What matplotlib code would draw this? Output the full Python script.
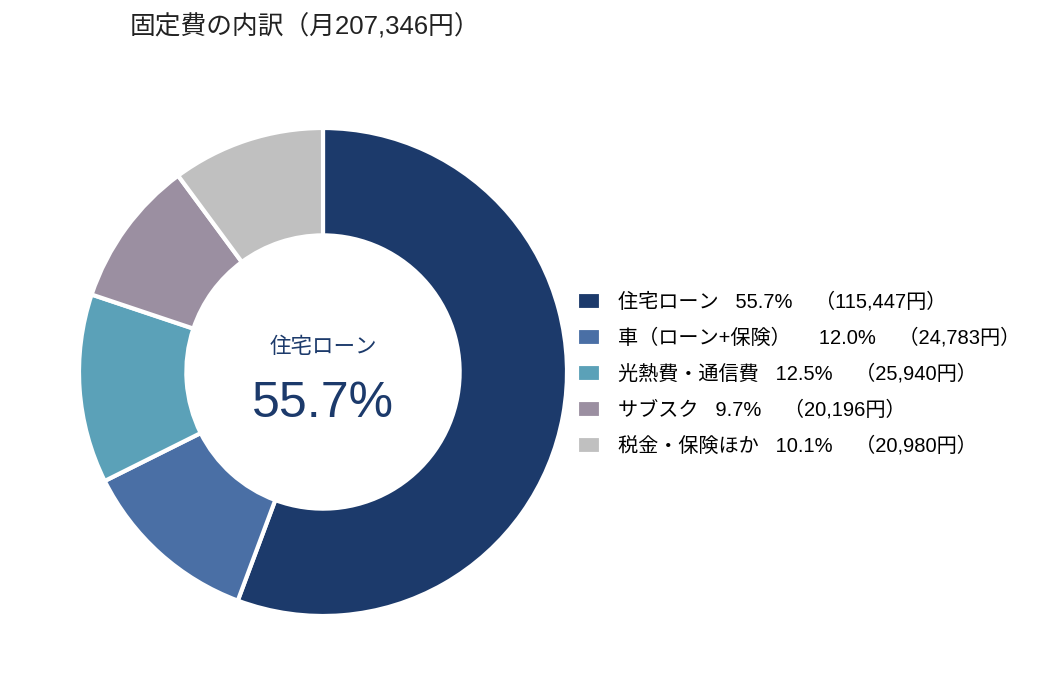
import matplotlib
matplotlib.use("Agg")
import matplotlib.pyplot as plt

plt.rcParams['font.family'] = ['Liberation Sans', 'Noto Sans CJK JP', 'DejaVu Sans']

categories = ["住宅ローン", "車（ローン+保険）", "光熱費・通信費", "サブスク", "税金・保険ほか"]
amounts = [115447, 24783, 25940, 20196, 20980]
shares = [55.7, 12.0, 12.5, 9.7, 10.1]
colors = ["#1c3a6b", "#4a6fa5", "#5ba1b8", "#9b8fa1", "#c0c0c0"]
total = 207346

fig = plt.figure(figsize=(10.53, 6.96), dpi=100)
# pie centre ~ (323, 372) px, radius ~ 244 px
cx, cy, r = 323, 696 - 372, 244
half = 260
ax = fig.add_axes([(cx - half) / 1053, (cy - half) / 696, 2 * half / 1053, 2 * half / 696])

wedges, _ = ax.pie(amounts, colors=colors, startangle=90, counterclock=False,
                   radius=1.0, wedgeprops=dict(width=0.44, edgecolor="white", linewidth=3))
lim = half / r
ax.set_xlim(-lim, lim)
ax.set_ylim(-lim, lim)
ax.set_aspect("equal")
ax.axis("off")

ax.text(0, 0.1, categories[0], ha="center", va="center", fontsize=15.5, color="#1c3a6b")
ax.text(0, -0.13, f"{shares[0]}%", ha="center", va="center", fontsize=36, color="#1c3a6b")

labels = []
for c, s, a in zip(categories, shares, amounts):
    gap = "     " if c.endswith("）") else "   "
    labels.append(f"{c}{gap}{s:.1f}%    （{a:,}円）")
fig.legend(wedges, labels, loc="center left", bbox_to_anchor=(577 / 1053, 1 - 374 / 696),
           frameon=False, fontsize=14.5, handlelength=1.2, handleheight=1.0,
           handletextpad=0.85, labelspacing=0.8, borderaxespad=0, borderpad=0)

fig.text(130 / 1053, 1 - 27 / 696, f"固定費の内訳（月{total:,}円）", ha="left", va="center",
         fontsize=18.5, color="#222222")

fig.savefig("out.png", dpi=100)
